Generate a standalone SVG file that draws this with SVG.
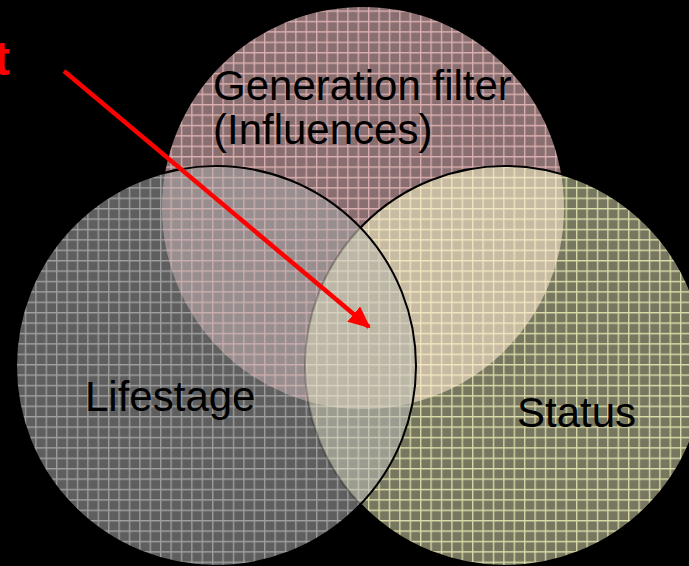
<svg xmlns="http://www.w3.org/2000/svg" width="689" height="566" viewBox="0 0 689 566">
  <style>
    .lbl { font-family: "Liberation Sans", Arial, sans-serif; font-size: 42px; fill: #000; }
    .red { font-family: "Liberation Sans", Arial, sans-serif; font-size: 48px; font-weight: bold; fill: #ff0000; }
    .edge { fill: none; stroke: #000; stroke-width: 2; }
    .conn { stroke: #ff0000; stroke-width: 4.5; fill: none; }
    .grid { stroke-width: 1.3; fill: none; }
  </style>
  <defs>
    <pattern id="chk" width="2" height="2" patternUnits="userSpaceOnUse">
      <rect x="0" y="0" width="1" height="1" fill="#fff"/>
      <rect x="1" y="1" width="1" height="1" fill="#fff"/>
    </pattern>
    <pattern id="pL" width="10.4" height="10.4" patternUnits="userSpaceOnUse" x="4" y="0">
      <rect width="10.4" height="10.4" fill="#565656"/>
      <rect width="10.4" height="10.4" fill="url(#chk)" opacity="0.1"/>
      <path class="grid" d="M0 0.7H10.4M0.7 0V10.4" stroke="#a0a0a0"/>
    </pattern>
    <pattern id="pT" width="10.4" height="10.4" patternUnits="userSpaceOnUse" x="4" y="0">
      <rect width="10.4" height="10.4" fill="#836769"/>
      <rect width="10.4" height="10.4" fill="url(#chk)" opacity="0.1"/>
      <path class="grid" d="M0 0.7H10.4M0.7 0V10.4" stroke="#dcb0b0"/>
    </pattern>
    <pattern id="pR" width="10.4" height="10.4" patternUnits="userSpaceOnUse" x="4" y="0">
      <rect width="10.4" height="10.4" fill="#707058"/>
      <rect width="10.4" height="10.4" fill="url(#chk)" opacity="0.1"/>
      <path class="grid" d="M0 0.7H10.4M0.7 0V10.4" stroke="#dcdcaa"/>
    </pattern>
    <pattern id="pLT" width="10.4" height="10.4" patternUnits="userSpaceOnUse" x="4" y="0">
      <rect width="10.4" height="10.4" fill="#938889"/>
      <rect width="10.4" height="10.4" fill="url(#chk)" opacity="0.1"/>
      <path class="grid" d="M0 0.7H10.4M0.7 0V10.4" stroke="#cbaeae"/>
    </pattern>
    <pattern id="pTR" width="10.4" height="10.4" patternUnits="userSpaceOnUse" x="4" y="0">
      <rect width="10.4" height="10.4" fill="#c4b89e"/>
      <rect width="10.4" height="10.4" fill="url(#chk)" opacity="0.1"/>
      <path class="grid" d="M0 0.7H10.4M0.7 0V10.4" stroke="#f2e6c0"/>
    </pattern>
    <pattern id="pLR" width="10.4" height="10.4" patternUnits="userSpaceOnUse" x="4" y="0">
      <rect width="10.4" height="10.4" fill="#96968a"/>
      <rect width="10.4" height="10.4" fill="url(#chk)" opacity="0.1"/>
      <path class="grid" d="M0 0.7H10.4M0.7 0V10.4" stroke="#c8c8b4"/>
    </pattern>
    <pattern id="pLTR" width="10.4" height="10.4" patternUnits="userSpaceOnUse" x="4" y="0">
      <rect width="10.4" height="10.4" fill="#b9b3a3"/>
      <rect width="10.4" height="10.4" fill="url(#chk)" opacity="0.1"/>
      <path class="grid" d="M0 0.7H10.4M0.7 0V10.4" stroke="#d8d2be"/>
    </pattern>
    <clipPath id="cL"><circle cx="216" cy="366" r="200"/></clipPath>
    <clipPath id="cT"><circle cx="363" cy="208" r="201"/></clipPath>
    <mask id="mR" maskUnits="userSpaceOnUse" x="0" y="0" width="689" height="566">
      <rect width="689" height="566" fill="#fff"/>
      <circle cx="216" cy="366" r="200" fill="#444"/>
    </mask>
    <marker id="ah" markerUnits="userSpaceOnUse" markerWidth="22" markerHeight="20" refX="20" refY="10" orient="auto">
      <path d="M0 0L22 10L0 20Z" fill="#ff0000"/>
    </marker>
  </defs>

  <rect width="689" height="566" fill="#000"/>

  <g id="generation-filter">
    <circle cx="363" cy="208" r="201" fill="url(#pT)"/>
  </g>
  <g id="status">
    <circle cx="505" cy="366" r="200" fill="url(#pR)"/>
  </g>
  <g id="lifestage">
    <circle cx="216" cy="366" r="200" fill="url(#pL)"/>
  </g>

  <g id="overlaps">
    <g clip-path="url(#cL)"><circle cx="363" cy="208" r="201" fill="url(#pLT)"/></g>
    <g clip-path="url(#cT)"><circle cx="505" cy="366" r="200" fill="url(#pTR)"/></g>
    <g clip-path="url(#cL)"><circle cx="505" cy="366" r="200" fill="url(#pLR)"/></g>
    <g clip-path="url(#cL)"><g clip-path="url(#cT)"><circle cx="505" cy="366" r="200" fill="url(#pLTR)"/></g></g>
  </g>

  <g id="edges">
    <circle class="edge" cx="505" cy="366" r="200" mask="url(#mR)"/>
    <circle class="edge" cx="216" cy="366" r="200"/>
  </g>

  <g id="labels">
    <text class="lbl" x="213" y="100">Generation filter</text>
    <text class="lbl" x="213" y="144">(Influences)</text>
    <text class="lbl" x="85" y="411">Lifestage</text>
    <text class="lbl" x="517" y="427">Status</text>
  </g>

  <g id="label-t">
    <text class="red" x="-6" y="75">t</text>
  </g>

  <g id="connectors">
    <line class="conn" x1="64" y1="71" x2="369" y2="327" marker-end="url(#ah)"/>
  </g>
</svg>
